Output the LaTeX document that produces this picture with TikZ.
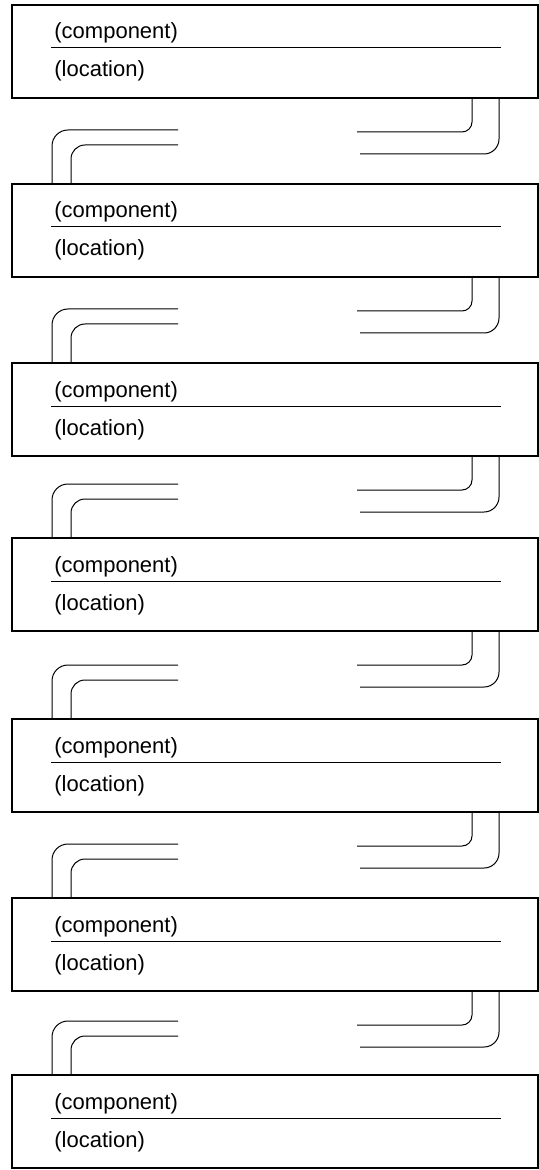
\documentclass[tikz,border=0pt]{standalone}
\usepackage{fontspec}
\setmainfont{Liberation Sans}
\usetikzlibrary{calc}

\tikzset{
  compbox/.style={draw, line width=1pt, minimum width=263pt, minimum height=46.5pt, inner sep=0pt, anchor=north west},
  comptext/.style={anchor=base west, inner sep=0pt, font=\fontsize{11}{13}\selectfont},
  wire/.style={draw, line width=0.5pt},
}

\begin{document}
\begin{tikzpicture}[x=0.5pt, y=-0.5pt]
            \useasboundingbox (0,0) rectangle (538,1170);

            % boxes
            \foreach \t [count=\i] in {4,183,362,537,718,897,1074} {
                \node[compbox] (box\i) at (11,\t) {};
                \node[comptext] (comp\i) at ($(box\i.north west)+(43,35)$) {(component)};
                \node[comptext] (loc\i) at ($(box\i.north west)+(43,73)$) {(location)};
                \draw[wire] ($(box\i.north west)+(40,44)$) -- ++(450,0); %
            }

            % leads between boxes
            \foreach \i [evaluate=\i as \j using int(\i+1)] in {1,...,6} {
                \coordinate (ri\i) at ($(box\i.south east)+(-182,33)$);
                \coordinate (ro\i) at ($(box\i.south east)+(-179,55)$);
                \coordinate (lu\i) at ($(box\j.north west)+(167,-53)$);
                \coordinate (ll\i) at ($(box\j.north west)+(167,-38)$);
                \draw[wire, rounded corners=5pt] ($(box\i.south east)+(-67,0)$) |- (ri\i); %
                \draw[wire, rounded corners=7.5pt] ($(box\i.south east)+(-40,0)$) |- (ro\i); %
                \draw[wire, rounded corners=8pt] (lu\i) -| ($(box\j.north west)+(41,0)$); %
                \draw[wire, rounded corners=7pt] (ll\i) -| ($(box\j.north west)+(60,0)$); %
            }

\end{tikzpicture}
\end{document}
